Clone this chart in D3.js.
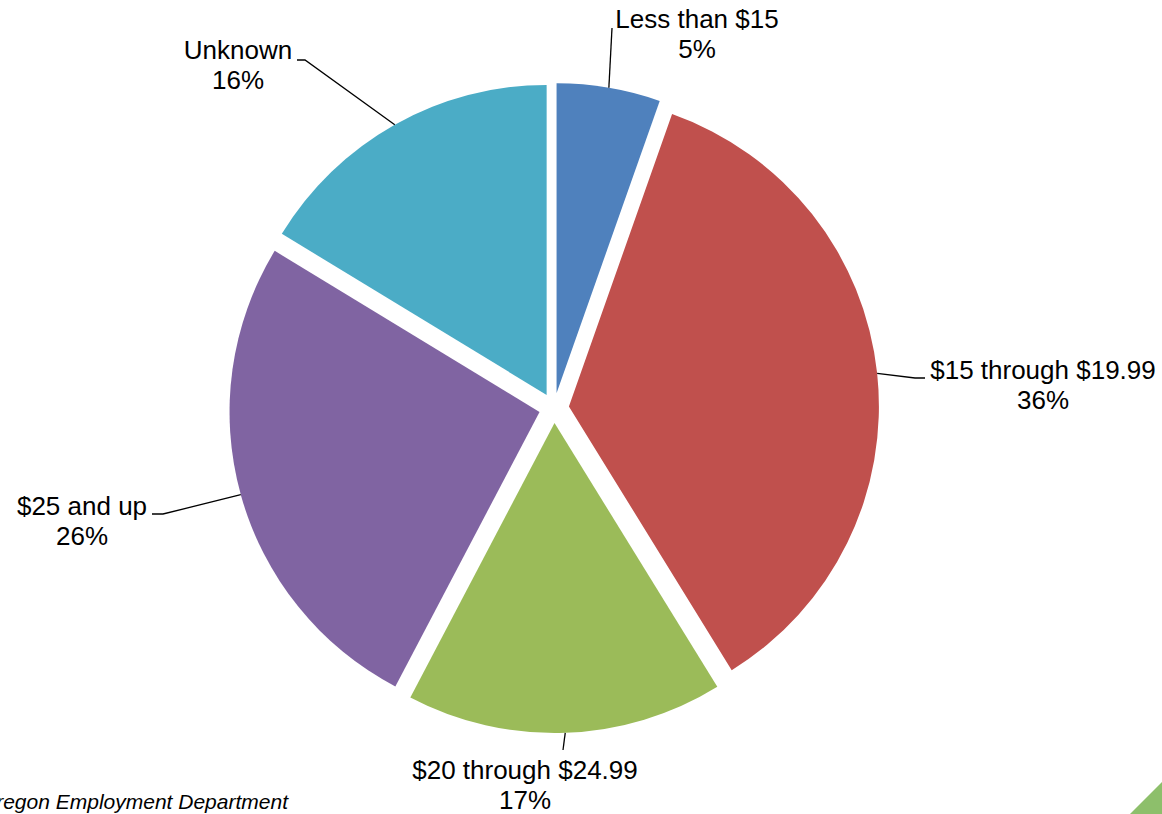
<!DOCTYPE html>
<html lang="en">

<head>
    <meta charset="UTF-8">
    <title>Wage distribution pie</title>
    <script src="https://d3js.org/d3.v7.min.js"></script>
    <style>
        body {
            margin: 0;
            background-color: white;
        }

        svg {
            display: block;
            font-family: Arial, "Liberation Sans", sans-serif;
        }
    </style>
</head>

<body>
    <svg id="pie_svg" width="1162" height="814"></svg>
    <script>
        // Chart data (shares, labels show rounded values)
        const categories = ["Less than $15", "$15 through $19.99", "$20 through $24.99", "$25 and up", "Unknown"];
        const shares = [5.4, 35.8, 16.5, 26.0, 16.3];
        const colors = ["#4f81bd", "#c0504d", "#9bbb59", "#8064a2", "#4bacc6"];

        // Label anchor (first text line) and where the leader line meets it.
        const labelPos = [
            { x: 697, y: 28, lx: 612, ly: 28, elbow: false },
            { x: 1043, y: 379, lx: 925, ly: 378, elbow: [915, 378] },
            { x: 525, y: 779, lx: 563, ly: 750, elbow: false },
            { x: 82, y: 515, lx: 152, ly: 514, elbow: [163, 514] },
            { x: 238, y: 59, lx: 297, ly: 60, elbow: [305, 60] }
        ];

        const width = 1162, height = 814;
        const cx = 554, cy = 408;
        const radius = 310;
        const explode = 15;

        const svg = d3.select("#pie_svg");

        const data = categories.map((name, i) => ({ name, value: shares[i], color: colors[i], pos: labelPos[i] }));

        const pie = d3.pie()
            .sort(null)
            .value(d => d.value);

        const arc = d3.arc()
            .innerRadius(0)
            .outerRadius(radius);

        const arcs = pie(data);

        const g = svg.append("g")
            .attr("transform", `translate(${cx},${cy})`);

        // offset for exploded slices
        function shift(d) {
            const mid = (d.startAngle + d.endAngle) / 2;
            return [explode * Math.sin(mid), -explode * Math.cos(mid)];
        }

        g.selectAll("path")
            .data(arcs)
            .join("path")
            .attr("transform", d => `translate(${shift(d)})`)
            .attr("fill", d => d.data.color)
            .attr("d", arc);

        // Leader lines from the slice's outer edge to the label
        g.selectAll("polyline")
            .data(arcs)
            .join("polyline")
            .attr("fill", "none")
            .attr("stroke", "black")
            .attr("stroke-width", 1.3)
            .attr("points", d => {
                const mid = (d.startAngle + d.endAngle) / 2;
                const s = shift(d);
                const start = [s[0] + radius * Math.sin(mid), s[1] - radius * Math.cos(mid)];
                const p = d.data.pos;
                const pts = [start];
                if (p.elbow) pts.push([p.elbow[0] - cx, p.elbow[1] - cy]);
                pts.push([p.lx - cx, p.ly - cy]);
                return pts.map(q => q.join(",")).join(" ");
            });

        // Labels: name and percent
        const labels = svg.append("g")
            .attr("font-size", 26)
            .attr("text-anchor", "middle")
            .attr("fill", "black")
            .selectAll("text")
            .data(data)
            .join("text")
            .attr("x", d => d.pos.x)
            .attr("y", d => d.pos.y);

        labels.append("tspan")
            .attr("x", d => d.pos.x)
            .text(d => d.name);

        labels.append("tspan")
            .attr("x", d => d.pos.x)
            .attr("dy", 30)
            .text(d => Math.round(d.value) + "%");

        // Source note (clipped at the left edge like the original)
        svg.append("text")
            .attr("x", 288)
            .attr("y", 809)
            .attr("text-anchor", "end")
            .attr("font-size", 21)
            .attr("font-style", "italic")
            .text("Source: Oregon Employment Department");

        // Corner decoration
        svg.append("path")
            .attr("d", `M1130,${height} L${width},782 L${width},${height} Z`)
            .attr("fill", "#8dbf6b");
    </script>
</body>

</html>
